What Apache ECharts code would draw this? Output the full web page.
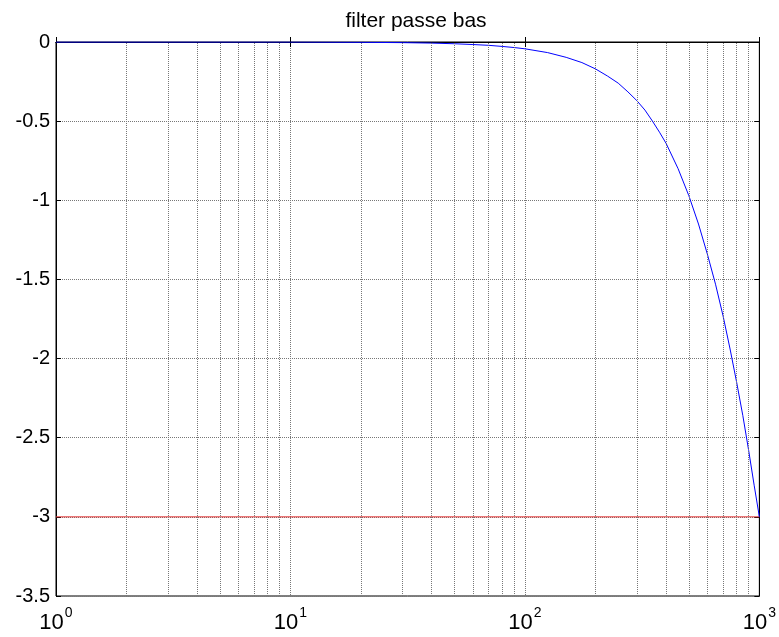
<!DOCTYPE html>
<html>
<head>
<meta charset="utf-8">
<title>filter passe bas</title>
<script src="https://cdn.jsdelivr.net/npm/echarts@6/dist/echarts.min.js"></script>
<style>
  html, body { margin: 0; padding: 0; background: #fff; }
  #chart { width: 779px; height: 637px; }
</style>
</head>
<body>
<div id="chart"></div>
<script>
// Frequency response of the low-pass filter (gain in dB vs frequency)
const freqs = [1, 10, 20, 30, 40, 50, 60, 70, 80, 90, 100, 125, 150, 175, 200, 225, 250, 275, 300, 325,
               350, 375, 400, 450, 500, 550, 600, 650, 700, 750, 800, 850, 900, 950, 1000];
const gainDb = [0, 0, -0.002, -0.004, -0.007, -0.011, -0.016, -0.021, -0.028, -0.035, -0.043, -0.067, -0.097, -0.13, -0.17, -0.215, -0.26, -0.315, -0.37, -0.43,
                -0.5, -0.57, -0.64, -0.8, -0.97, -1.15, -1.34, -1.53, -1.73, -1.94, -2.15, -2.36, -2.58, -2.8, -3.0];

// -3 dB cut-off reference
const cutoffLevel = -3;
const cutoffSpan = [1, 1000];

// Minor decade grid positions (2..9 in each decade)
const minorFreqs = [2, 3, 4, 5, 6, 7, 8, 9,
                    20, 30, 40, 50, 60, 70, 80, 90,
                    200, 300, 400, 500, 600, 700, 800, 900];

const titleText = 'filter passe bas';
const fontFamily = '"Liberation Sans", Arial, sans-serif';
const gridLine = { color: '#777', width: 1, type: [1, 1] };

const chart = echarts.init(document.getElementById('chart'), null, { renderer: 'canvas' });

const xCommon = {
  type: 'log',
  logBase: 10,
  min: 1,
  max: 1000
};
const yCommon = {
  type: 'value',
  min: -3.5,
  max: 0,
  interval: 0.5
};

chart.setOption({
  animation: false,
  backgroundColor: '#fff',
  title: {
    text: titleText,
    left: 411,
    textAlign: 'center',
    top: 6,
    textStyle: { fontFamily, fontSize: 21, fontWeight: 'normal', color: '#000' }
  },
  grid: {
    left: 56, right: 18, top: 42, bottom: 41,
    show: true, borderColor: '#000', borderWidth: 1, backgroundColor: '#fff'
  },
  xAxis: [
    Object.assign({}, xCommon, {
      position: 'bottom',
      axisLine: { show: true, lineStyle: { color: '#000', width: 1 } },
      axisTick: { show: true, inside: true, length: 5, lineStyle: { color: '#000' } },
      splitLine: { show: true, lineStyle: gridLine },
      axisLabel: {
        margin: 10,
        formatter: v => '{b|10}{e|' + Math.round(Math.log10(v)) + '}',
        rich: {
          b: { fontFamily, fontSize: 22, color: '#000', verticalAlign: 'bottom' },
          e: { fontFamily, fontSize: 14, color: '#000', verticalAlign: 'bottom', padding: [0, 0, 14, 1] }
        }
      }
    }),
    Object.assign({}, xCommon, {
      position: 'top',
      axisLine: { show: true, lineStyle: { color: '#000', width: 1 } },
      axisTick: { show: true, inside: true, length: 5, lineStyle: { color: '#000' } },
      splitLine: { show: false },
      axisLabel: { show: false }
    })
  ],
  yAxis: [
    Object.assign({}, yCommon, {
      position: 'left',
      axisLine: { show: true, lineStyle: { color: '#000', width: 1 } },
      axisTick: { show: true, inside: true, length: 5, lineStyle: { color: '#000' } },
      splitLine: { show: true, lineStyle: gridLine },
      axisLabel: { margin: 6, fontFamily, fontSize: 20, color: '#000' }
    }),
    Object.assign({}, yCommon, {
      position: 'right',
      axisLine: { show: true, lineStyle: { color: '#000', width: 1 } },
      axisTick: { show: true, inside: true, length: 5, lineStyle: { color: '#000' } },
      splitLine: { show: false },
      axisLabel: { show: false }
    })
  ],
  series: [
    {
      name: 'minor grid',
      type: 'line',
      data: [],
      silent: true,
      markLine: {
        silent: true,
        symbol: ['none', 'none'],
        label: { show: false },
        lineStyle: gridLine,
        data: minorFreqs.map(f => ({ xAxis: f }))
      }
    },
    {
      name: 'cut-off',
      type: 'line',
      data: cutoffSpan.map(f => [f, cutoffLevel]),
      showSymbol: false,
      lineStyle: { color: '#e03030', width: 1 },
      z: 3
    },
    {
      name: 'gain',
      type: 'line',
      data: freqs.map((f, i) => [f, gainDb[i]]),
      showSymbol: false,
      smooth: false,
      lineStyle: { color: '#0000ff', width: 1 },
      z: 4
    }
  ]
});
</script>
</body>
</html>
